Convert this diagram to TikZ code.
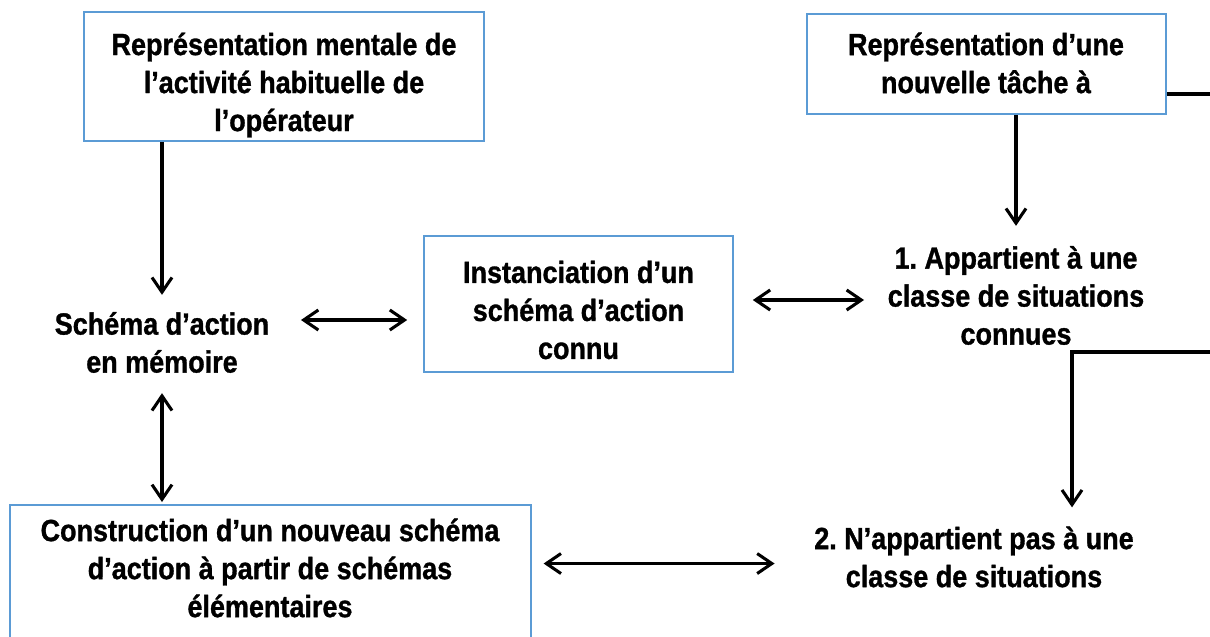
\documentclass[tikz,border=0pt]{standalone}
\usepackage{fontspec}
\setmainfont{Liberation Sans}[FakeStretch=0.88, BoldFeatures={FakeBold=1}]
\usetikzlibrary{arrows.meta,calc}
\definecolor{boxblue}{RGB}{91,155,213}
\frenchspacing
\tikzset{
  boxnode/.style={draw=boxblue, line width=1.2pt, fill=white, inner sep=0pt, rectangle},
  lbl/.style={align=center, inner sep=0pt, font=\bfseries\fontsize{23pt}{28.5pt}\selectfont},
  conn/.style={line width=2.3pt},
  arr/.style={conn, -{Straight Barb[length=11pt,width=15pt]}},
  dbl/.style={conn, {Straight Barb[length=11pt,width=15pt]}-{Straight Barb[length=11pt,width=15pt]}},
}
\begin{document}
\begin{tikzpicture}[x=0.75pt,y=-0.75pt]
\useasboundingbox (0,0) rectangle (1210,636);
\fill[white] (0,0) rectangle (1210,636);

% boxes
\node[boxnode, minimum width=300pt, minimum height=96.75pt] (b1) at (284,76.5) {};
\node[boxnode, minimum width=269.25pt, minimum height=75pt] (b2) at (986.5,64) {};
\node[boxnode, minimum width=231.75pt, minimum height=102pt] (b3) at (578.5,304) {};
\node[boxnode, anchor=north west, minimum width=390.75pt, minimum height=147pt] (b4) at (9,504) {};

% texts
\node[lbl] (t1) at (284,85) {Représentation mentale de\\l’activité habituelle de\\l’opérateur};
\node[lbl] (t2) at (986,63) {Représentation d’une\\nouvelle tâche à};
\node[lbl] (t3) at (578.5,310) {Instanciation d’un\\schéma d’action\\connu};
\node[lbl] (tS) at (162,342.5) {Schéma d’action\\en mémoire};
\node[lbl] (tA) at (1016,295.5) {1. Appartient à une\\classe de situations\\connues};
\node[lbl] (tN) at (974,557) {2. N’appartient pas à une\\classe de situations};
\node[lbl] (tC) at (270,568) {Construction d’un nouveau schéma\\d’action à partir de schémas\\élémentaires};

% free ends at the right edge
\coordinate (eR1) at (1215,94);
\coordinate (eR2) at (1215,352);

% connectors
\draw[arr] (b1.south -| tS.north) -- ([yshift=12.75pt]tS.north);
\draw[dbl] let \p1=(tS.east), \p2=(b3.west) in (\x1+23.6pt,\y2-12pt) -- (\x2-12pt,\y2-12pt);
\draw[dbl, shorten >=1.5pt] ([yshift=-15pt]tS.south) -- (tS.south |- b4.north);
\draw[dbl] let \p1=(b3.east), \p2=(tA.west) in (\x1+14.25pt,\y1+3pt) -- (\x2-17.6pt,\y1+3pt);
\draw[arr] (b2.south -| tA.north) -- ([yshift=15pt]tA.north);
\draw[conn] (b2.east |- eR1) -- (eR1);
\draw[arr] (eR2) -| ([xshift=73.5pt,yshift=14.25pt]tN.north);
\draw[dbl] let \p1=(b4.east), \p2=(tN.west) in (\x1+9pt,\y2-4.9pt) -- (\x2-29.6pt,\y2-4.9pt);
\end{tikzpicture}
\end{document}
